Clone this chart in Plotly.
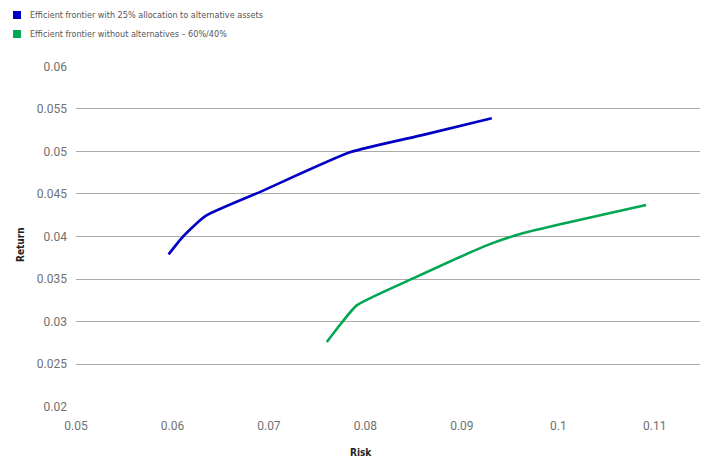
import plotly.graph_objects as go

# Data
series_names = [
    "Efficient frontier with 25% allocation to alternative assets",
    "Efficient frontier without alternatives \u2013 60%/40%",
]
series_colors = ["#0000C4", "#00A651"]

alt_risk = [0.0596, 0.0611, 0.0634, 0.0691, 0.0784, 0.0860, 0.0931]
alt_return = [0.0379, 0.0400, 0.0424, 0.04525, 0.0499, 0.05195, 0.0539]

trad_risk = [0.0760, 0.0775, 0.0791, 0.0850, 0.0929, 0.0964, 0.1091]
trad_return = [0.0276, 0.0298, 0.0319, 0.0351, 0.0391, 0.0404, 0.0437]

x_ticks = [0.05, 0.06, 0.07, 0.08, 0.09, 0.10, 0.11]
x_ticktext = ["0.05", "0.06", "0.07", "0.08", "0.09", "0.1", "0.11"]
y_ticks = [0.02, 0.025, 0.03, 0.035, 0.04, 0.045, 0.05, 0.055, 0.06]
y_ticktext = ["0.02", "0.025", "0.03", "0.035", "0.04", "0.045", "0.05", "0.055", "0.06"]

TICK_FONT = "Roboto, DejaVu Sans, sans-serif"
LEG_FONT = "DejaVu Sans Condensed, DejaVu Sans, sans-serif"

# page body has an 8px default margin; plot area in page pixels: x 76..703, y 66..407
OFF = 8
L, R, T, B = 76 - OFF, 703 - OFF, 66 - OFF, 407 - OFF
W, H = 708 - OFF, 457 - OFF
PW, PH = R - L, B - T


def px(xp):
    return (xp - OFF - L) / PW


def py(yp):
    return (B - (yp - OFF)) / PH


fig = go.Figure()
for xs, ys, name, col in [
    (alt_risk, alt_return, series_names[0], series_colors[0]),
    (trad_risk, trad_return, series_names[1], series_colors[1]),
]:
    fig.add_trace(go.Scatter(
        x=xs, y=ys, mode="lines", name=name,
        line=dict(color=col, width=2.6, shape="spline", smoothing=0.5),
        showlegend=False,
    ))

# Manual legend (square swatches + text)
shapes = []
annotations = []
for i, (name, col) in enumerate(zip(series_names, series_colors)):
    yc = 15 + i * 19
    shapes.append(dict(
        type="rect", xref="paper", yref="paper",
        x0=px(13), x1=px(21), y0=py(yc + 4), y1=py(yc - 4),
        fillcolor=col, line=dict(width=0),
    ))
    annotations.append(dict(
        text=name, xref="paper", yref="paper",
        x=px(28), y=py(yc),
        xanchor="left", yanchor="middle", showarrow=False,
        font=dict(family=LEG_FONT, size=9, color="#555555"),
    ))

annotations.append(dict(
    text="<b>Return</b>", xref="paper", yref="paper",
    x=px(20), y=py(245), textangle=-90,
    xanchor="center", yanchor="middle", showarrow=False,
    font=dict(family=LEG_FONT, size=10, color="#222222"),
))
annotations.append(dict(
    text="<b>Risk</b>", xref="paper", yref="paper",
    x=px(361), y=py(453),
    xanchor="center", yanchor="middle", showarrow=False,
    font=dict(family=LEG_FONT, size=10, color="#222222"),
))

fig.update_layout(
    width=W, height=H, autosize=False,
    margin=dict(l=L, r=W - R, t=T, b=H - B, pad=0),
    paper_bgcolor="white", plot_bgcolor="white",
    shapes=shapes, annotations=annotations,
    font=dict(family=TICK_FONT, size=12, color="#707070"),
)
fig.update_xaxes(
    range=[0.05, 0.115], tickvals=x_ticks, ticktext=x_ticktext,
    showgrid=False, zeroline=False, showline=False, ticks="",
    ticklabelstandoff=10, tickfont=dict(family=TICK_FONT, size=12, color="#707070"),
)
fig.update_yaxes(
    range=[0.01995, 0.06005], tickvals=y_ticks, ticktext=y_ticktext,
    showgrid=True, gridcolor="#ABABAB", gridwidth=1,
    zeroline=False, showline=False, ticks="",
    ticklabelstandoff=8, tickfont=dict(family=TICK_FONT, size=12, color="#707070"),
)

fig.write_html("out.html")
